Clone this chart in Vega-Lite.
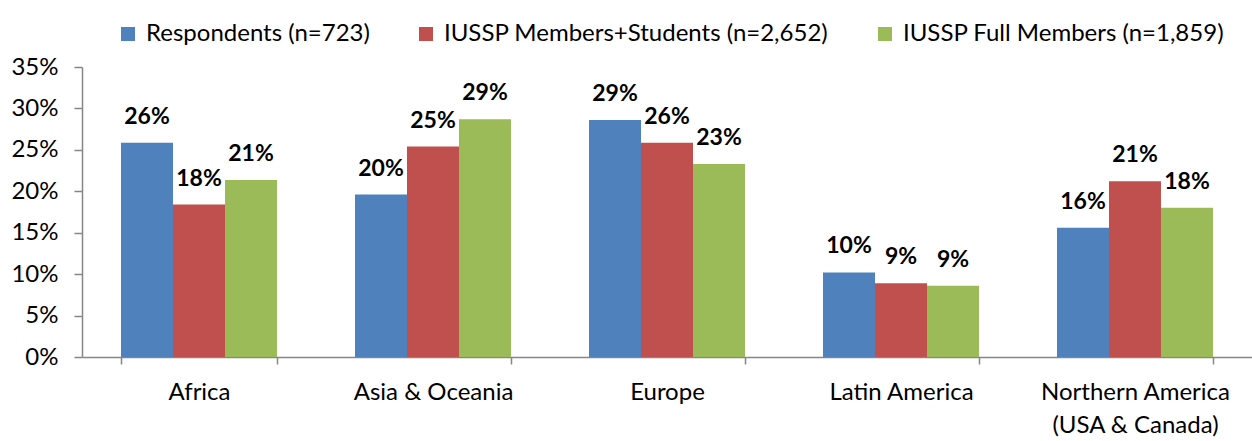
{
  "$schema": "https://vega.github.io/schema/vega-lite/v6.json",
  "width": 1170,
  "height": 290,
  "autosize": {"type": "none"},
  "padding": {"left": 82, "top": 67, "right": 0, "bottom": 84},
  "background": "white",
  "config": {"view": {"stroke": null}, "font": "Lato"},
  "data": {
    "values": [
      {"region": "Africa", "group": "Respondents (n=723)", "value": 0.2585},
      {"region": "Africa", "group": "IUSSP Members+Students (n=2,652)", "value": 0.184},
      {"region": "Africa", "group": "IUSSP Full Members (n=1,859)", "value": 0.2136},
      {"region": "Asia & Oceania", "group": "Respondents (n=723)", "value": 0.196},
      {"region": "Asia & Oceania", "group": "IUSSP Members+Students (n=2,652)", "value": 0.254},
      {"region": "Asia & Oceania", "group": "IUSSP Full Members (n=1,859)", "value": 0.287},
      {"region": "Europe", "group": "Respondents (n=723)", "value": 0.286},
      {"region": "Europe", "group": "IUSSP Members+Students (n=2,652)", "value": 0.2585},
      {"region": "Europe", "group": "IUSSP Full Members (n=1,859)", "value": 0.233},
      {"region": "Latin America", "group": "Respondents (n=723)", "value": 0.102},
      {"region": "Latin America", "group": "IUSSP Members+Students (n=2,652)", "value": 0.089},
      {"region": "Latin America", "group": "IUSSP Full Members (n=1,859)", "value": 0.086},
      {"region": "Northern America (USA & Canada)", "group": "Respondents (n=723)", "value": 0.156},
      {"region": "Northern America (USA & Canada)", "group": "IUSSP Members+Students (n=2,652)", "value": 0.212},
      {"region": "Northern America (USA & Canada)", "group": "IUSSP Full Members (n=1,859)", "value": 0.18}
    ]
  },
  "encoding": {
    "x": {
      "field": "region",
      "type": "nominal",
      "sort": null,
      "scale": {"paddingInner": 0.3333, "paddingOuter": 0.1667},
      "axis": {
        "title": null,
        "labelAngle": 0,
        "labelFontSize": 24,
        "labelColor": "#000000",
        "labelPadding": 16,
        "labelLineHeight": 33,
        "labelBaseline": "top",
        "labelLimit": 0,
        "labelExpr": "datum.label == 'Northern America (USA & Canada)' ? ['Northern America', '(USA & Canada)'] : datum.label",
        "domainColor": "#868686",
        "domainWidth": 1.5,
        "tickColor": "#868686",
        "tickWidth": 1.5,
        "tickSize": 7,
        "tickBand": "extent",
        "grid": false
      }
    },
    "xOffset": {
      "field": "group",
      "type": "nominal",
      "sort": ["Respondents (n=723)", "IUSSP Members+Students (n=2,652)", "IUSSP Full Members (n=1,859)"]
    },
    "y": {
      "field": "value",
      "type": "quantitative",
      "scale": {"domain": [0, 0.35], "nice": false},
      "axis": {
        "title": null,
        "values": [0, 0.05, 0.1, 0.15, 0.2, 0.25, 0.3, 0.35],
        "format": ".0%",
        "labelFontSize": 24,
        "labelColor": "#000000",
        "labelPadding": 16,
        "domainColor": "#868686",
        "domainWidth": 1.5,
        "tickColor": "#868686",
        "tickWidth": 1.5,
        "tickSize": 8,
        "grid": false
      }
    }
  },
  "layer": [
    {
      "mark": {"type": "bar"},
      "encoding": {
        "color": {
          "field": "group",
          "type": "nominal",
          "sort": ["Respondents (n=723)", "IUSSP Members+Students (n=2,652)", "IUSSP Full Members (n=1,859)"],
          "scale": {
            "domain": ["Respondents (n=723)", "IUSSP Members+Students (n=2,652)", "IUSSP Full Members (n=1,859)"],
            "range": ["#4F81BD", "#C0504D", "#9BBB59"]
          },
          "legend": {
            "title": null,
            "orient": "none",
            "legendX": 34,
            "legendY": -45,
            "direction": "horizontal",
            "padding": 0,
            "symbolType": "square",
            "symbolSize": 196,
            "symbolStrokeWidth": 0,
            "labelFontSize": 24,
            "labelLimit": 0,
            "labelColor": "#000000",
            "labelOffset": 6,
            "columnPadding": 44
          }
        }
      }
    },
    {
      "mark": {"type": "text", "baseline": "alphabetic", "dy": -19, "fontWeight": "bold", "fontSize": 23, "color": "#000000"},
      "encoding": {
        "text": {"field": "value", "type": "quantitative", "format": ".0%"}
      }
    }
  ]
}
